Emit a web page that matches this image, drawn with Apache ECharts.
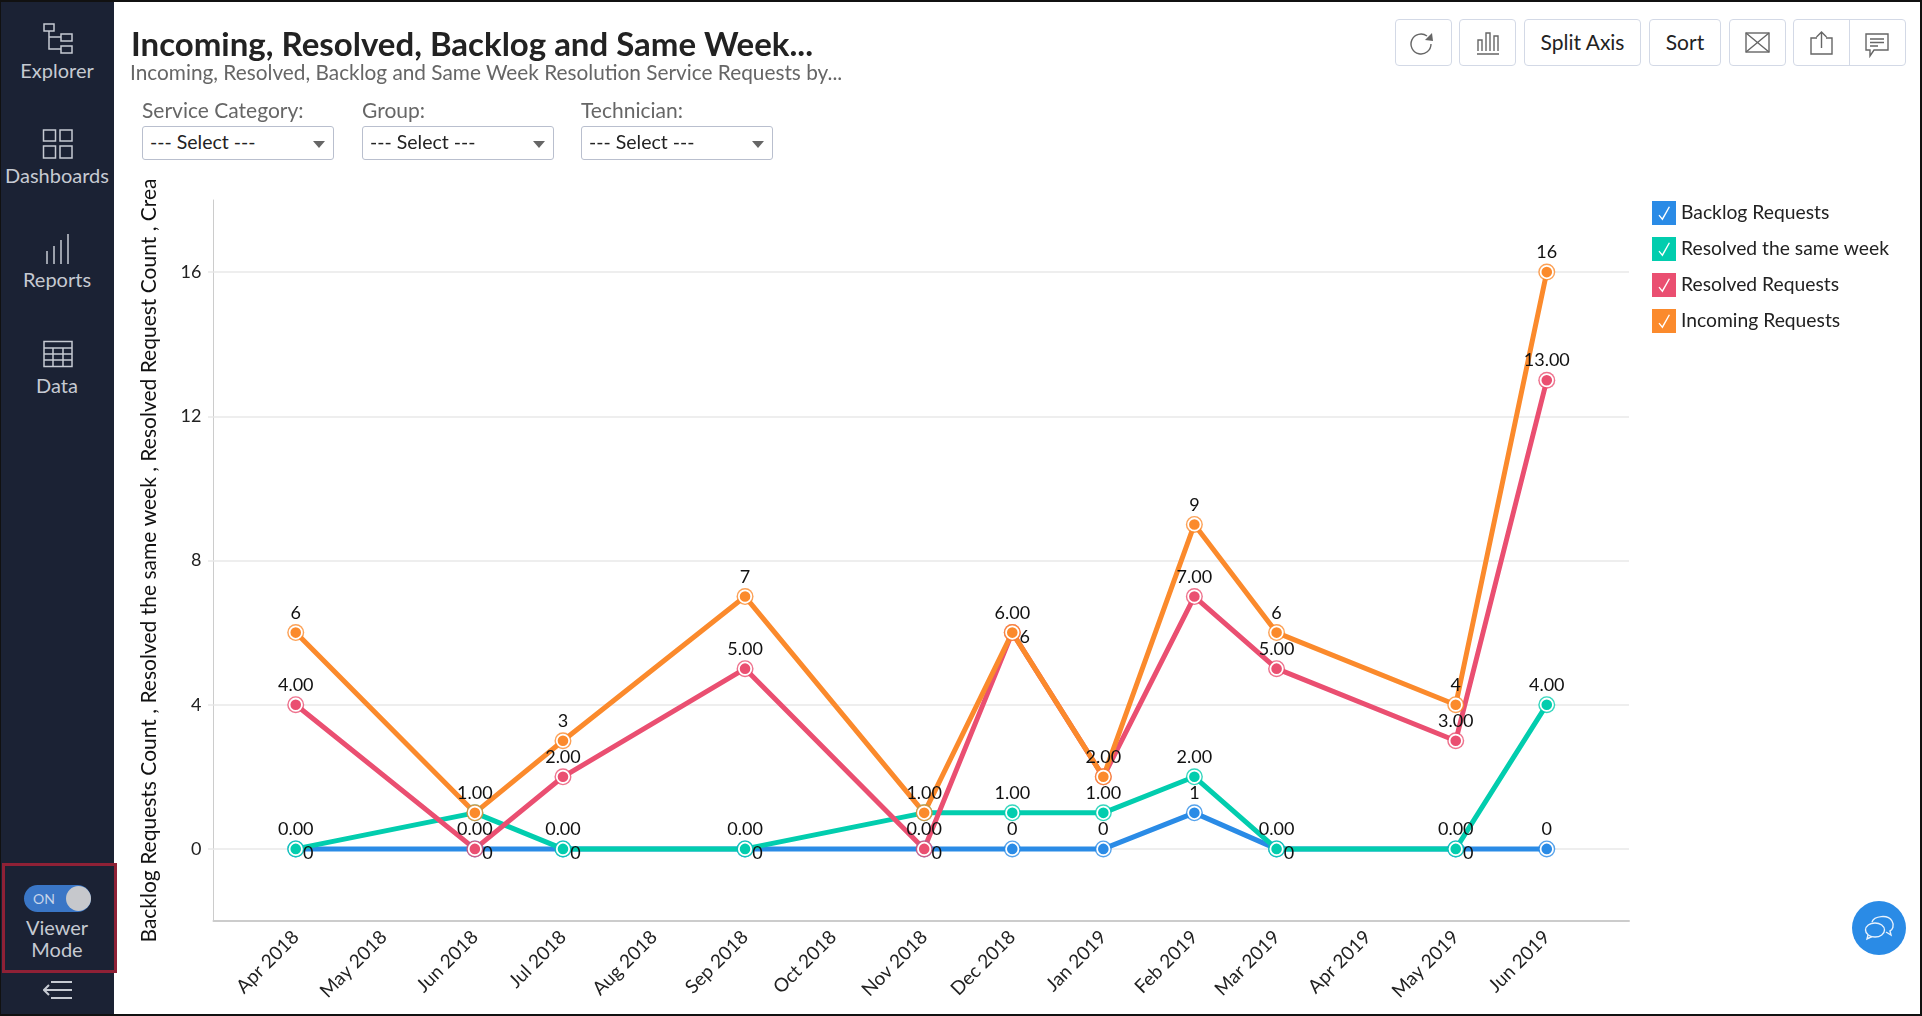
<!DOCTYPE html>
<html><head><meta charset="utf-8">
<script src="https://cdn.jsdelivr.net/npm/echarts@6/dist/echarts.min.js"></script>
<style>
html,body{margin:0;padding:0;width:1922px;height:1016px;overflow:hidden;background:#fff;font-family:Lato,sans-serif}
#frame{position:absolute;left:0;top:0;width:1922px;height:1016px;box-sizing:border-box;border:2px solid #111;border-left-width:1px;pointer-events:none;z-index:9}
#side{position:absolute;left:0;top:0;width:114px;height:1016px;background:#1b2234}
.nav{position:absolute;left:0;width:114px;text-align:center;color:#c6cad2;font-size:20px;line-height:22px}
.ic{position:absolute;fill:none;stroke:#c6cad2;stroke-width:1.5}
#vm{position:absolute;left:2px;top:863px;width:115px;height:110px;box-sizing:border-box;border:3px solid #8f2136}
#tog{position:absolute;left:24px;top:885px;width:67px;height:27px;border-radius:14px;background:#3a76c6;color:#c6d4ea;font-size:14px;line-height:27px;text-indent:9px}
#knob{position:absolute;left:42px;top:1px;width:25px;height:25px;border-radius:13px;background:#c6c8cc}
h1{position:absolute;left:131px;top:22px;margin:0;font-size:33px;line-height:42px;font-weight:700;color:#222;white-space:nowrap}
#sub{position:absolute;left:130px;top:59px;font-size:20.8px;line-height:26px;color:#666;white-space:nowrap}
.fl{position:absolute;top:97px;font-size:21px;line-height:26px;color:#666}
.sel{position:absolute;top:126px;width:192px;height:34px;box-sizing:border-box;border:1px solid #b9bfce;border-radius:3px;font-size:19.5px;line-height:30px;padding-left:7px;color:#222;background:#fff}
.sel i{position:absolute;right:8px;top:14px;width:0;height:0;border-left:6px solid transparent;border-right:6px solid transparent;border-top:7px solid #666}
.btn{position:absolute;top:19px;height:47px;box-sizing:border-box;border:1px solid #d3d9e6;border-radius:4px;text-align:center;font-size:21px;line-height:44px;color:#222;background:#fff}
.bi{position:absolute;fill:none;stroke:#666;stroke-width:1.4}
#fab{position:absolute;left:1852px;top:901px;width:54px;height:54px;border-radius:27px;background:#2a8be6}
#chart{position:absolute;left:0;top:0;width:1922px;height:1016px}
</style></head><body>
<div id="chart"></div>
<div id="side"></div>
<svg class="ic" style="left:42px;top:23px" width="32" height="32" viewBox="0 0 32 32"><rect x="2" y="1" width="10" height="7"/><rect x="19" y="11" width="11" height="7"/><rect x="19" y="23" width="11" height="7"/><path d="M7 8V26H19M7 14H19"/></svg>
<div class="nav" style="top:59px">Explorer</div>
<svg class="ic" style="left:42px;top:129px" width="32" height="30" viewBox="0 0 32 30"><rect x="1.5" y="1" width="12" height="11"/><rect x="18" y="1" width="12" height="11"/><rect x="1.5" y="17" width="12" height="12"/><rect x="18" y="17" width="12" height="12"/></svg>
<div class="nav" style="top:164px">Dashboards</div>
<svg class="ic" style="left:44px;top:233px" width="28" height="32" viewBox="0 0 28 32"><path d="M3 31V18M10 31V13M17 31V7M24 31V1"/></svg>
<div class="nav" style="top:268px">Reports</div>
<svg class="ic" style="left:42px;top:340px" width="32" height="28" viewBox="0 0 32 28"><rect x="2" y="1.5" width="28" height="25"/><path d="M2 8H30M2 14H30M2 20H30M11 8V26.5M21 8V26.5"/></svg>
<div class="nav" style="top:374px">Data</div>
<div id="vm"></div>
<div id="tog">ON<div id="knob"></div></div>
<div class="nav" style="top:916px">Viewer</div>
<div class="nav" style="top:938px">Mode</div>
<svg class="ic" style="left:43px;top:980px;stroke-width:2" width="30" height="20" viewBox="0 0 30 20"><path d="M8 2H29M1 10H29M8 18H29M6 5L1 10L6 15"/></svg>

<h1>Incoming, Resolved, Backlog and Same Week...</h1>
<div id="sub">Incoming, Resolved, Backlog and Same Week Resolution Service Requests by...</div>
<div class="fl" style="left:142px">Service Category:</div>
<div class="fl" style="left:362px">Group:</div>
<div class="fl" style="left:581px">Technician:</div>
<div class="sel" style="left:142px">--- Select ---<i></i></div>
<div class="sel" style="left:362px">--- Select ---<i></i></div>
<div class="sel" style="left:581px">--- Select ---<i></i></div>

<div class="btn" style="left:1395px;width:57px"></div>
<svg class="bi" style="left:1408px;top:31px" width="28" height="26" viewBox="0 0 28 26"><path d="M23 13A10 10 0 1 1 19 5"/><path d="M17 9L25 10L24 2Z" fill="#666" stroke="none"/></svg>
<div class="btn" style="left:1459px;width:57px"></div>
<svg class="bi" style="left:1476px;top:31px" width="24" height="24" viewBox="0 0 24 24"><path d="M1 23H23M2 20V9H6V20M10 20V2H14V20M18 20V5H22V20"/></svg>
<div class="btn" style="left:1524px;width:117px">Split Axis</div>
<div class="btn" style="left:1649px;width:72px">Sort</div>
<div class="btn" style="left:1729px;width:57px"></div>
<svg class="bi" style="left:1745px;top:32px" width="25" height="21" viewBox="0 0 25 21"><rect x="1" y="1" width="23" height="19"/><path d="M1 1L24 20M24 1L1 20"/></svg>
<div class="btn" style="left:1793px;width:113px"></div>
<div style="position:absolute;left:1849px;top:19px;width:1px;height:47px;background:#d3d9e6"></div>
<svg class="bi" style="left:1809px;top:31px" width="25" height="24" viewBox="0 0 25 24"><path d="M8 7H2V23H23V7H17M12.5 17V1M7.5 6L12.5 1L17.5 6"/></svg>
<svg class="bi" style="left:1864px;top:32px" width="26" height="26" viewBox="0 0 26 26"><path d="M2 2H24V18H10L6 24V18H2Z"/><path d="M6 7H20M6 10.5H20M6 14H14"/></svg>

<div id="fab"><svg style="position:absolute;left:12px;top:13px;fill:none;stroke:#e8f2fd;stroke-width:1.4" width="31" height="27" viewBox="0 0 31 27"><path d="M8 8C10 2 24 0 28 7C31 12 28 16 26 17L27 21L22 18"/><ellipse cx="11" cy="16" rx="9.5" ry="7"/><path d="M4 21L3 25L8 22.5"/></svg></div>
<div id="frame"></div>

<script>
// ---- data ----
const monthLabels = ['Apr 2018','May 2018','Jun 2018','Jul 2018','Aug 2018','Sep 2018','Oct 2018','Nov 2018','Dec 2018','Jan 2019','Feb 2019','Mar 2019','Apr 2019','May 2019','Jun 2019'];
const dataMonths = ['Apr 2018','Jun 2018','Jul 2018','Sep 2018','Nov 2018','Dec 2018','Jan 2019','Feb 2019','Mar 2019','May 2019','Jun 2019'];
const backlogRequests = [0,0,0,0,0,0,0,1,0,0,0];
const resolvedSameWeek = [0,1,0,0,1,1,1,2,0,0,4];
const resolvedRequests = [4,0,2,5,0,6,2,7,5,3,13];
const incomingRequests = [6,1,3,7,1,6,2,9,6,4,16];
const yTickValues = [0,4,8,12,16];
const axisTitle = 'Backlog Requests Count , Resolved the same week , Resolved Request Count , Crea';

// ---- helpers and style ----
const MON = ['Jan','Feb','Mar','Apr','May','Jun','Jul','Aug','Sep','Oct','Nov','Dec'];
const toTs = s => { const [m,y] = s.split(' '); return Date.UTC(+y, MON.indexOf(m), 1); };
const monthTicks = monthLabels.map(toTs);
const FONT = 'Lato';
const DAY = 86400000;
const checkIcon = 'path://M0 0H24V24H0Z M6.5 14.5L10.5 19.5L18 6L16.8 5.5L10.2 17L7.5 13.8Z';
const defs = [
  {name:'Backlog Requests', values:backlogRequests, color:'#2a8be6', fmt:0, shifted:['Apr 2018','Jun 2018','Jul 2018','Sep 2018','Nov 2018','Mar 2019','May 2019'], hidden:[]},
  {name:'Resolved the same week', values:resolvedSameWeek, color:'#02cdae', fmt:2, shifted:[], hidden:[]},
  {name:'Resolved Requests', values:resolvedRequests, color:'#ea4f71', fmt:2, shifted:[], hidden:[]},
  {name:'Incoming Requests', values:incomingRequests, color:'#fb8a2c', fmt:0, shifted:['Dec 2018'], hidden:['Jun 2018','Nov 2018','Jan 2019']}
];
const series = [];
defs.forEach((d, si) => {
  const pts = dataMonths.map((m,i) => [toTs(m), d.values[i]]);
  series.push({type:'scatter', name:d.name+' ring', data:pts, symbolSize:17, silent:true, legendHoverLink:false,
    itemStyle:{color:d.color}, z:2});
  const ser = {type:'line', name:d.name, color:d.color, z:2, symbol:'circle', symbolSize:12.4, showAllSymbol:true, animation:false,
    lineStyle:{color:d.color,width:5}, itemStyle:{color:d.color,borderColor:'#fff',borderWidth:1.8},
    label:{show:true,position:'top',distance:3.5,color:'#111',fontFamily:FONT,fontSize:18,
      formatter:p => p.value[1].toFixed(d.fmt)},
    data:dataMonths.map((m,i) => {
      const item = {value:[toTs(m), d.values[i]]};
      if (d.hidden.includes(m)) item.label = {show:false};
      else if (d.shifted.includes(m)) item.label = {offset:[12.5,24]};
      return item;
    })};
  if (si === 0) ser.markLine = {silent:true, symbol:'none', animation:false, label:{show:false},
    lineStyle:{color:'#eeeeee',width:1,type:'solid'}, data:[{yAxis:0}], z:1};
  series.push(ser);
});

const chart = echarts.init(document.getElementById('chart'), null, {renderer:'canvas'});
chart.setOption({
  animation:false, useUTC:true,
  textStyle:{fontFamily:FONT},
  grid:{left:213.5,right:293,top:200,bottom:95,containLabel:false},
  legend:{show:true, orient:'vertical', left:1652, top:201, padding:0, itemWidth:24, itemHeight:24, itemGap:12, selectedMode:false,
    textStyle:{fontFamily:FONT,fontSize:19.3,color:'#222'},
    itemStyle:{borderWidth:0}, lineStyle:{width:0},
    data:defs.map(d => ({name:d.name, icon:checkIcon}))},
  xAxis:{type:'time', min:Date.UTC(2018,2,4), max:Date.UTC(2019,5,29),
    minInterval:28*DAY, maxInterval:31*DAY,
    axisLine:{show:true,onZero:false,lineStyle:{color:'#cccccc',width:2}},
    axisTick:{show:false}, splitLine:{show:false}, minorTick:{show:false},
    axisLabel:{show:true,rotate:45,margin:13,color:'#222',fontFamily:FONT,fontSize:19,hideOverlap:false,interval:0,
      showMinLabel:false,showMaxLabel:false,
      formatter:v => {
        const i = monthTicks.indexOf(+v);
        return i >= 0 ? monthLabels[i] : '';
      }}},
  yAxis:{type:'value', min:-2, max:18, interval:2,
    name:axisTitle, nameLocation:'middle', nameRotate:90, nameGap:54,
    nameTextStyle:{fontFamily:FONT,fontSize:21,color:'#111'},
    axisLine:{show:true,lineStyle:{color:'#cccccc',width:1}},
    axisTick:{show:true,length:5.5,lineStyle:{color:'#eeeeee',width:2},customValues:yTickValues},
    axisLabel:{show:true,margin:12,color:'#222',fontFamily:FONT,fontSize:18,customValues:yTickValues},
    splitLine:{show:true,lineStyle:{color:'#eeeeee',width:2},customValues:yTickValues.filter(v=>v!==0)}},
  series
});
</script>
</body></html>
